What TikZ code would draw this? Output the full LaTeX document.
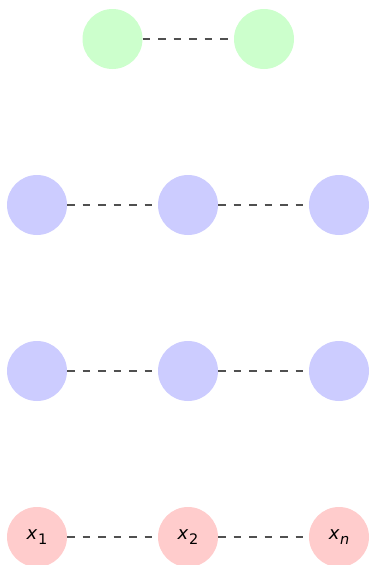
\documentclass[tikz,border=0pt]{standalone}
\usepackage{fontspec}
\setsansfont{DejaVu Sans}
\definecolor{gfill}{HTML}{CCFFCC}
\definecolor{bfill}{HTML}{CCCCFF}
\definecolor{rfill}{HTML}{FFCCCC}
\definecolor{dline}{HTML}{505050}
\newcommand{\xlabelfont}{\sffamily\fontsize{18}{18}\selectfont}
\newcommand{\xsub}[1]{\kern0.5pt\raisebox{-5pt}{\fontsize{14.5}{14.5}\selectfont #1}}
\tikzset{
  gnode/.style={circle,fill=gfill,minimum size=60pt,inner sep=0pt},
  bnode/.style={circle,fill=bfill,minimum size=60pt,inner sep=0pt},
  rnode/.style={circle,fill=rfill,minimum size=60pt,inner sep=0pt},
  dlink/.style={draw=dline,line width=1.2pt,dash pattern=on 7.5pt off 8pt},
}
\begin{document}
\begin{tikzpicture}[x=1pt,y=-1pt]
\useasboundingbox (0,0) rectangle (370,565);
\node[gnode] (g1) at (112.5,39) {};
\node[gnode] (g2) at (264,39) {};
\node[bnode] (a1) at (37,205) {};
\node[bnode] (a2) at (188,205) {};
\node[bnode] (a3) at (339,205) {};
\node[bnode] (b1) at (37,371) {};
\node[bnode] (b2) at (188,371) {};
\node[bnode] (b3) at (339,371) {};
\node[rnode] (x1) at (37,537) {\xlabelfont\textit{x}\xsub{1}};
\node[rnode] (x2) at (188,537) {\xlabelfont\textit{x}\xsub{2}};
\node[rnode] (xn) at (339,537) {\xlabelfont\textit{x}\xsub{\textit{n}}};
\draw[dlink] (g1) -- (g2);
\draw[dlink] (a1) -- (a2);
\draw[dlink] (a2) -- (a3);
\draw[dlink] (b1) -- (b2);
\draw[dlink] (b2) -- (b3);
\draw[dlink] (x1) -- (x2);
\draw[dlink] (x2) -- (xn);
\end{tikzpicture}
\end{document}
